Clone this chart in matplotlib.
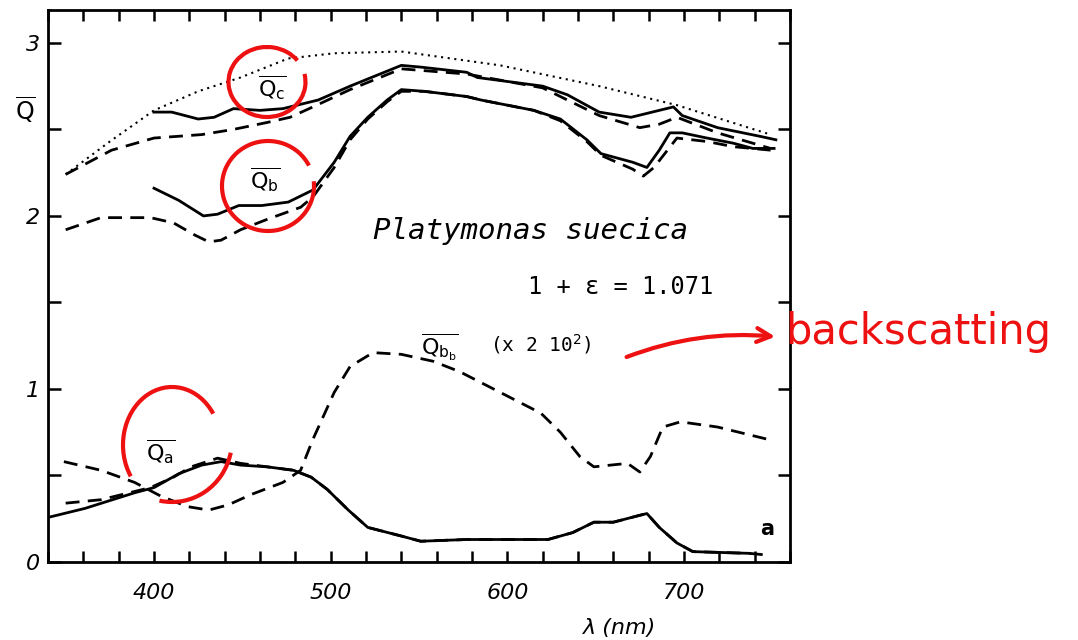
import matplotlib
matplotlib.use("Agg")
import matplotlib.pyplot as plt
from matplotlib.patches import Arc
from matplotlib.ticker import MultipleLocator, FixedLocator

# ---- data (wavelength nm, efficiency factor) ----
dot_x = [350, 375, 400, 425, 449, 476, 502, 540, 596, 652, 696, 749]
dot_y = [2.24, 2.43, 2.61, 2.72, 2.80, 2.91, 2.94, 2.95, 2.87, 2.75, 2.64, 2.47]

qc_sol_x = [400, 410, 425, 434, 445, 460, 473, 493, 511, 540, 551, 577, 583, 620, 634, 652, 670, 682, 694, 699, 719, 743, 752]
qc_sol_y = [2.60, 2.60, 2.56, 2.57, 2.62, 2.61, 2.62, 2.67, 2.75, 2.87, 2.86, 2.83, 2.80, 2.75, 2.70, 2.60, 2.57, 2.60, 2.63, 2.58, 2.51, 2.46, 2.44]

qc_dash_x = [350, 376, 400, 427, 445, 464, 477, 490, 511, 540, 577, 620, 652, 675, 686, 696, 719, 749]
qc_dash_y = [2.24, 2.38, 2.45, 2.47, 2.50, 2.54, 2.57, 2.63, 2.73, 2.85, 2.82, 2.74, 2.58, 2.51, 2.53, 2.57, 2.48, 2.39]

qb_sol_x = [400, 414, 428, 436, 448, 461, 476, 490, 502, 511, 521, 532, 540, 553, 577, 585, 615, 630, 645, 653, 671, 679, 686, 692, 699, 713, 728, 739, 751]
qb_sol_y = [2.16, 2.09, 2.00, 2.01, 2.06, 2.06, 2.08, 2.15, 2.31, 2.46, 2.57, 2.67, 2.73, 2.72, 2.69, 2.67, 2.61, 2.56, 2.44, 2.36, 2.31, 2.28, 2.38, 2.48, 2.48, 2.45, 2.42, 2.39, 2.39]

qb_dash_x = [350, 370, 398, 411, 423, 431, 438, 449, 464, 483, 490, 502, 511, 521, 532, 540, 553, 577, 585, 615, 630, 645, 653, 671, 677, 683, 696, 713, 728, 749]
qb_dash_y = [1.92, 1.99, 1.99, 1.96, 1.89, 1.85, 1.86, 1.92, 1.98, 2.05, 2.11, 2.28, 2.44, 2.56, 2.66, 2.72, 2.72, 2.69, 2.67, 2.61, 2.55, 2.43, 2.35, 2.27, 2.23, 2.28, 2.45, 2.43, 2.40, 2.38]

qbb_x = [349, 370, 389, 404, 419, 431, 442, 455, 473, 483, 490, 502, 511, 524, 540, 558, 573, 596, 619, 630, 641, 649, 668, 675, 681, 688, 698, 719, 747]
qbb_y = [0.58, 0.53, 0.46, 0.38, 0.32, 0.30, 0.33, 0.39, 0.46, 0.53, 0.71, 0.98, 1.13, 1.21, 1.20, 1.16, 1.10, 0.98, 0.86, 0.75, 0.61, 0.55, 0.57, 0.52, 0.61, 0.78, 0.81, 0.78, 0.71]

qa_sol_x = [341, 361, 389, 400, 414, 427, 438, 449, 464, 479, 489, 498, 510, 521, 540, 551, 577, 623, 637, 649, 660, 675, 679, 686, 696, 705, 737]
qa_sol_y = [0.26, 0.31, 0.40, 0.43, 0.51, 0.56, 0.58, 0.56, 0.55, 0.53, 0.49, 0.42, 0.30, 0.20, 0.15, 0.12, 0.13, 0.13, 0.17, 0.23, 0.23, 0.27, 0.28, 0.20, 0.11, 0.06, 0.05]

qa_dash_x = [350, 370, 398, 411, 421, 436, 449, 464, 479, 489, 498, 510, 521, 540, 551, 577, 623, 637, 649, 660, 675, 679, 686, 696, 705, 737, 747]
qa_dash_y = [0.34, 0.36, 0.43, 0.49, 0.55, 0.60, 0.57, 0.55, 0.53, 0.49, 0.42, 0.30, 0.20, 0.15, 0.12, 0.13, 0.13, 0.17, 0.23, 0.23, 0.27, 0.28, 0.20, 0.11, 0.06, 0.05, 0.04]

x_major = [400, 500, 600, 700]
y_major = [0, 1, 2, 3]

# ---- figure ----
W, H = 1078, 640
fig = plt.figure(figsize=(W / 100, H / 100), dpi=100)
ax = fig.add_axes([48 / W, 1 - 562 / H, (790 - 48) / W, (562 - 10) / H])
ax.set_xlim(340, 760)
ax.set_ylim(0, 3.19)

DASH = (0, (5, 3))
lw = 2.0
ax.plot(dot_x, dot_y, color="black", lw=1.5, linestyle=(0, (1, 2.2)))
ax.plot(qc_sol_x, qc_sol_y, color="black", lw=lw)
ax.plot(qc_dash_x, qc_dash_y, color="black", lw=lw, linestyle=DASH)
ax.plot(qb_sol_x, qb_sol_y, color="black", lw=lw)
ax.plot(qb_dash_x, qb_dash_y, color="black", lw=lw, linestyle=DASH)
ax.plot(qbb_x, qbb_y, color="black", lw=lw, linestyle=DASH)
ax.plot(qa_sol_x, qa_sol_y, color="black", lw=lw)
ax.plot(qa_dash_x, qa_dash_y, color="black", lw=lw, linestyle=DASH)

# ticks
ax.xaxis.set_major_locator(FixedLocator(x_major))
ax.xaxis.set_minor_locator(MultipleLocator(20))
ax.yaxis.set_major_locator(FixedLocator(y_major))
ax.yaxis.set_minor_locator(MultipleLocator(0.5))
ax.tick_params(which="both", direction="in", top=True, right=True, width=1.8, length=9)
ax.tick_params(axis="x", which="both", length=8)
ax.tick_params(axis="x", labelsize=16, pad=15)
ax.tick_params(axis="y", labelsize=16, pad=6)
for lab in ax.get_xticklabels() + ax.get_yticklabels():
    lab.set_fontstyle("italic")
for s in ax.spines.values():
    s.set_linewidth(2)

# labels
fig.text(25 / W, 1 - 110 / H, r"$\overline{\mathrm{Q}}$", fontsize=17, ha="center", va="center")
fig.text(620 / W, 1 - 628 / H, "λ (nm)", fontsize=16, fontstyle="italic", ha="center", va="center")

ax.text(467, 2.74, r"$\overline{\mathrm{Q}_\mathrm{c}}$", fontsize=16, ha="center", va="center")
ax.text(463, 2.21, r"$\overline{\mathrm{Q}_\mathrm{b}}$", fontsize=16, ha="center", va="center")
ax.text(404, 0.64, r"$\overline{\mathrm{Q}_\mathrm{a}}$", fontsize=16, ha="center", va="center")
ax.text(562, 1.24, r"$\overline{\mathrm{Q}_{\mathrm{b}_\mathrm{b}}}$", fontsize=16, ha="center", va="center")
ax.text(590, 1.26, r"(x 2 10$^2$)", family="DejaVu Sans Mono", fontsize=14, ha="left", va="center")
ax.text(613, 1.91, "Platymonas suecica", family="DejaVu Sans Mono", fontstyle="italic",
        fontsize=21, ha="center", va="center")
ax.text(664, 1.59, "1 + ε = 1.071", family="DejaVu Sans Mono", fontsize=17, ha="center", va="center")
ax.text(747, 0.19, "a", family="DejaVu Sans", fontsize=15, fontweight="bold", ha="center", va="center")

# ---- red hand annotations ----
def fx(px):
    return px / W

def fy(py):
    return 1 - py / H

red = "#ee1111"
fig.patches.append(Arc((fx(267), fy(82)), 77 / W, 70 / H, theta1=50, theta2=380,
                       transform=fig.transFigure, color=red, lw=3))
fig.patches.append(Arc((fx(268), fy(186)), 92 / W, 90 / H, theta1=40, theta2=370,
                       transform=fig.transFigure, color=red, lw=3))
fig.patches.append(Arc((fx(172), fy(445)), 98 / W, 116 / H, theta1=52, theta2=232,
                       transform=fig.transFigure, color=red, lw=3))
fig.patches.append(Arc((fx(172), fy(440)), 120 / W, 124 / H, theta1=263, theta2=340,
                       transform=fig.transFigure, color=red, lw=3))
ax.annotate("", xy=(fx(778), fy(337)), xycoords="figure fraction",
            xytext=(fx(624), fy(358)), textcoords="figure fraction",
            arrowprops=dict(arrowstyle="->", color=red, lw=3, mutation_scale=25,
                            connectionstyle="arc3,rad=-0.12"))
fig.text(fx(785), fy(332), "backscatting", color=red, fontsize=30, ha="left", va="center",
         family="DejaVu Sans")

fig.savefig("out.png", dpi=100)
